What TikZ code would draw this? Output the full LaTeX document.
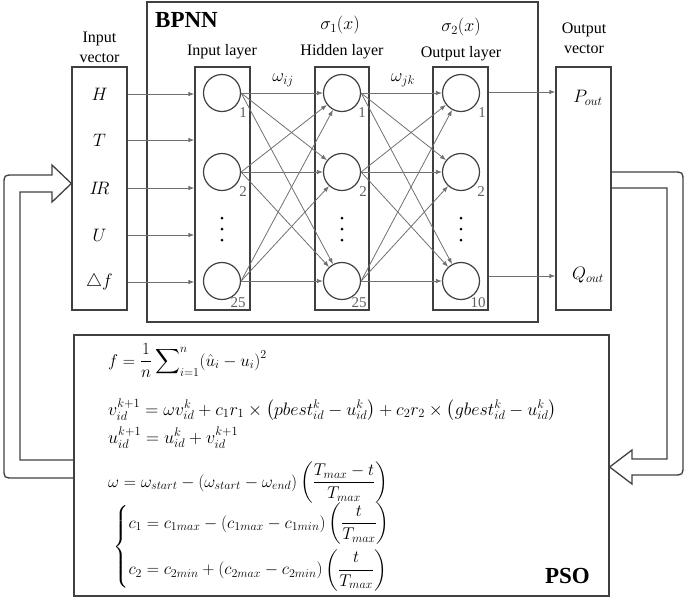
\RequirePackage{fix-cm}
\documentclass[tikz,border=0pt]{standalone}
\usepackage{amsmath}
\usepackage[no-math]{fontspec}
\setmainfont{Liberation Serif}
\usetikzlibrary{arrows.meta}
\DeclareMathSizes{17}{17}{12}{9.5}
\DeclareMathSizes{18}{18}{12.5}{10}
\definecolor{boxc}{HTML}{404040}
\definecolor{connc}{HTML}{707070}
\definecolor{numc}{HTML}{606060}
\begin{document}
\begin{tikzpicture}[x=1pt,y=-1pt,
  box/.style={draw=boxc, line width=1.3pt, inner sep=0pt},
  neuron/.style={circle, draw=boxc, line width=1.2pt, minimum size=37pt, inner sep=0pt},
  conn/.style={draw=connc, line width=0.8pt, -{Latex[length=6pt,width=4.5pt]}},
  lbl/.style={font=\fontsize{16}{20}\selectfont, align=center, inner sep=0pt},
  num/.style={text=numc, font=\fontsize{15}{15}\selectfont, inner sep=0pt},
  var/.style={font=\fontsize{18}{18}\selectfont, inner sep=0pt},
  ttl/.style={font=\fontsize{23}{23}\selectfont\bfseries, inner sep=0pt},
  eq/.style={font=\fontsize{17}{20}\selectfont, inner sep=0pt},
  eqb/.style={font=\fontsize{18}{20}\selectfont, inner sep=0pt},
  hollow/.style={draw=boxc, line width=1.3pt},
  dotf/.style={circle, fill=black, inner sep=0pt, minimum size=3pt}]
\useasboundingbox (0,0) rectangle (685,598);
% boxes
\node[box, minimum width=391pt, minimum height=320pt] (bpnn) at (342.5,162) {};
\node[box, minimum width=55pt, minimum height=243pt] (invec) at (99.5,188.5) {};
\node[box, minimum width=55pt, minimum height=243pt] (inlay) at (222.5,188.5) {};
\node[box, minimum width=54pt, minimum height=243pt] (hidlay) at (342,188.5) {};
\node[box, minimum width=55pt, minimum height=243pt] (outlay) at (460.5,188.5) {};
\node[box, minimum width=55pt, minimum height=243pt] (outvec) at (583.5,188.5) {};
\node[box, minimum width=535pt, minimum height=261pt] (pso) at (341.5,465.5) {};
% titles and labels
\node[ttl, anchor=west] (tb) at (155,20) {BPNN};
\node[ttl, anchor=base east] (tp) at (590,583) {PSO};
\node[lbl] (linv) at (99.5,47) {Input\\vector};
\node[lbl] (loutv) at (584,38) {Output\\vector};
\node[lbl] (lin) at (222,52) {Input layer};
\node[lbl] (lhid) at (342,52) {Hidden layer};
\node[lbl] (lout) at (461,54) {Output layer};
\node[var] (s1) at (340,25) {$\sigma_1(x)$};
\node[var] (s2) at (461,27) {$\sigma_2(x)$};
\node[var] (wij) at (283,80) {$\omega_{ij}$};
\node[var] (wjk) at (403,80) {$\omega_{jk}$};
% input variables
\node[var] (vH) at (99.5,94) {$H$};
\node[var] (vT) at (99.5,140) {$T$};
\node[var] (vIR) at (99.5,188) {$I\!R$};
\node[var] (vU) at (99.5,235) {$U$};
\node[var] (vdf) at (99.5,282) {$\triangle f$};
\node[var] (vP) at (588,98) {$P_{out}$};
\node[var] (vQ) at (588,275) {$Q_{out}$};
% neurons
\foreach \n/\x in {i/222,h/342,o/461}{
  \node[neuron] (\n1) at (\x,93) {};
  \node[neuron] (\n2) at (\x,172) {};
  \node[neuron] (\n3) at (\x,281) {};
  \node[dotf] (\n d1) at (\x,218) {};
  \node[dotf] (\n d2) at (\x,229) {};
  \node[dotf] (\n d3) at (\x,240) {};
}
\node[num] (ni1) at (243,113) {1};
\node[num] (ni2) at (243,192) {2};
\node[num] (ni3) at (238,303) {25};
\node[num] (nh1) at (362,113) {1};
\node[num] (nh2) at (363,192) {2};
\node[num] (nh3) at (359,303) {25};
\node[num] (no1) at (482,113) {1};
\node[num] (no2) at (481,192) {2};
\node[num] (no3) at (478,303) {10};
% input arrows
\foreach \v in {vH,vT,vIR,vU,vdf}{
  \draw[conn] (\v -| invec.east) -- (\v -| inlay.west);
}
% full connections
\foreach \a in {1,2,3}{
  \foreach \b in {1,2,3}{
    \draw[conn] (i\a.east) -- (h\b);
    \draw[conn] (h\a.east) -- (o\b);
  }
}
% outputs
\coordinate (op1) at (outlay.east |- 0,92);
\coordinate (op2) at (outlay.east |- 0,276);
\draw[conn] (op1) -- (op1 -| outvec.west);
\draw[conn] (op2) -- (op2 -| outvec.west);
% left hollow feedback arrow
\draw[hollow] (pso.west |- 0,478) -- (14,478) .. controls (4,478) .. (4,468)
  -- (4,185) .. controls (4,175) .. (14,175) -- (52,175) -- (52,165)
  -- (invec.west |- 0,183.5) -- (52,202) -- (52,192) -- (20,192) -- (20,460) -- (pso.west |- 0,460);
% right hollow feedback arrow
\draw[hollow] (outvec.east |- 0,172) -- (673,172) .. controls (683,172) .. (683,182)
  -- (683,465) .. controls (683,475) .. (673,475) -- (632,475) -- (632,484)
  -- (pso.east |- 0,467) -- (632,450) -- (632,459) -- (667,459) -- (667,188) -- (outvec.east |- 0,188);
% PSO formulas
\node[eq, anchor=base west] (e1) at (108,366) {$\displaystyle f=\frac{1}{n}\sum\nolimits_{i=1}^{n}(\hat{u}_i-u_i)^2$};
\node[eqb, anchor=base west] (e2) at (108,415) {$v_{id}^{k+1}=\omega v_{id}^{k}+c_1r_1\times\left(pbest_{id}^{k}-u_{id}^{k}\right)+c_2r_2\times\left(gbest_{id}^{k}-u_{id}^{k}\right)$};
\node[eqb, anchor=base west] (e3) at (108,443) {$u_{id}^{k+1}=u_{id}^{k}+v_{id}^{k+1}$};
\node[eq, anchor=base west] (e4) at (108,487) {$\displaystyle\omega=\omega_{start}-(\omega_{start}-\omega_{end})\left(\frac{T_{max}-t}{T_{max}}\right)$};
\node[eq, anchor=west] (e5) at (113,547) {$\displaystyle\left\{\begin{aligned}
 &c_1=c_{1max}-(c_{1max}-c_{1min})\left(\frac{t}{T_{max}}\right)\\[1pt]
 &c_2=c_{2min}+(c_{2max}-c_{2min})\left(\frac{t}{T_{max}}\right)
 \end{aligned}\right.$};
\end{tikzpicture}
\end{document}
